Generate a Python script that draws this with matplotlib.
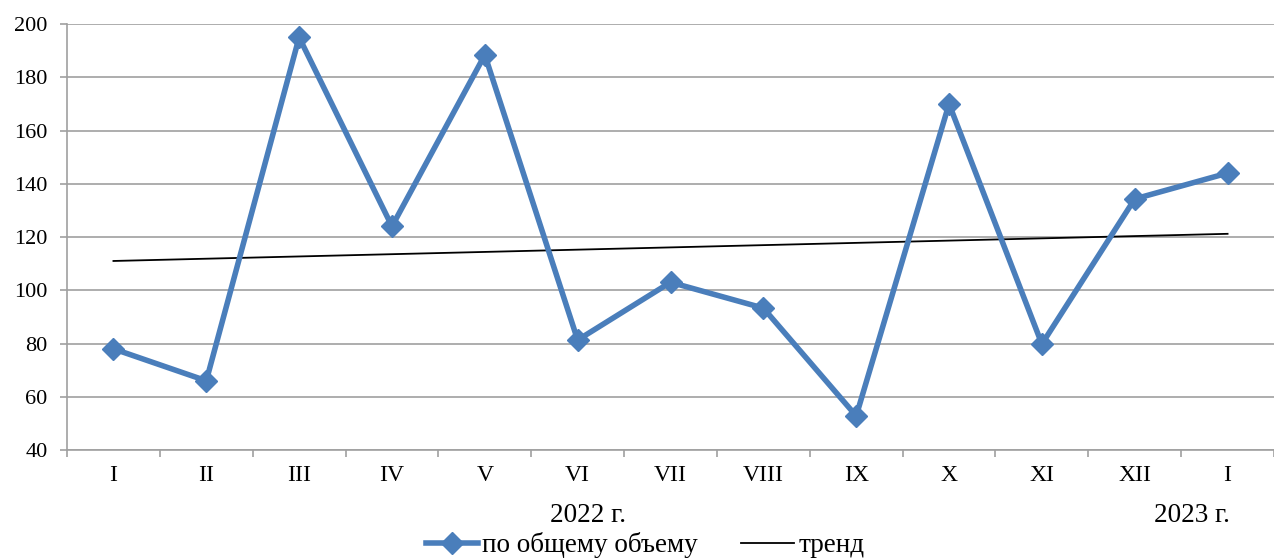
import matplotlib.pyplot as plt
from matplotlib.lines import Line2D
import numpy as np

plt.rcParams['font.family'] = ['Liberation Serif', 'DejaVu Serif']
plt.rcParams['font.size'] = 16

months = ['I', 'II', 'III', 'IV', 'V', 'VI', 'VII', 'VIII', 'IX', 'X', 'XI', 'XII', 'I']
volume = [78.0, 66.0, 195.0, 124.0, 188.4, 81.3, 103.0, 93.3, 52.8, 170.0, 79.8, 134.3, 144.0]
trend_ends = [111.0, 121.2]
year_labels = ['2022 г.', '2023 г.']
yticks = [40, 60, 80, 100, 120, 140, 160, 180, 200]

grid_col = '#A0A0A0'
blue = '#4A7EBB'

fig = plt.figure(figsize=(12.74, 5.59), dpi=100)
ax = fig.add_axes([0.0526, 0.195, 0.9474, 0.762])

x = np.arange(len(months))
ax.plot(x, volume, color=blue, lw=4, marker='D', markersize=11, markeredgewidth=1,
        markerfacecolor=blue, markeredgecolor=blue, zorder=3)
ax.plot([x[0], x[-1]], trend_ends, color='black', lw=1.3, zorder=2)

ax.set_xlim(-0.5, len(months) - 0.5)
ax.set_ylim(40, 200)
ax.set_yticks(yticks)
ax.yaxis.grid(True, color=grid_col, lw=1.2)
ax.set_axisbelow(True)

ax.set_xticks(x)
ax.set_xticklabels(months, fontsize=17)
ax.set_xticks(np.arange(-0.5, len(months)), minor=True)
ax.tick_params(axis='x', which='major', length=0, pad=11)
ax.tick_params(axis='x', which='minor', length=5, color=grid_col, width=1.2)
ax.tick_params(axis='y', length=5, color=grid_col, width=1.2, pad=9)

for side in ['top', 'right']:
  ax.spines[side].set_visible(False)
for side in ['left', 'bottom']:
  ax.spines[side].set_color(grid_col)
  ax.spines[side].set_linewidth(1.2)

# year captions under the month labels
fig.text(588 / 1274, 1 - 515 / 559, year_labels[0], ha='center', va='center', fontsize=19.5)
fig.text(1192 / 1274, 1 - 515 / 559, year_labels[1], ha='center', va='center', fontsize=19.5)

handles = [Line2D([], [], color=blue, lw=4, marker='D', markersize=11),
           Line2D([], [], color='black', lw=1.3)]
fig.legend(handles, ['по общему объему', 'тренд'], loc='center',
           bbox_to_anchor=(645 / 1274, 1 - 545 / 559), ncol=2, frameon=False,
           fontsize=19.5, handlelength=1.95, handletextpad=0.15, columnspacing=1.6,
           borderpad=0)

plt.savefig('out.png', dpi=100)
